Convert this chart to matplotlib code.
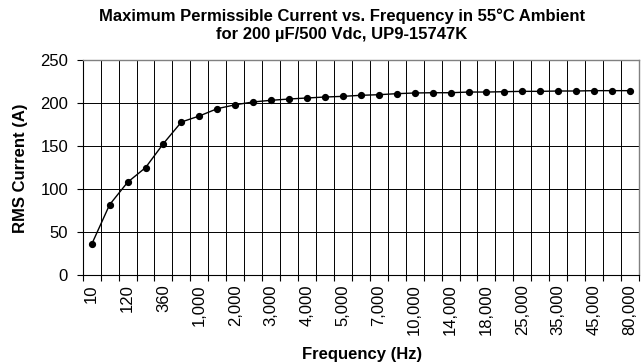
import matplotlib
matplotlib.use("Agg")
import matplotlib.pyplot as plt
import numpy as np

plt.rcParams['font.family'] = ['Liberation Sans', 'DejaVu Sans']

frequencies = [10, 60, 120, 240, 360, 600, 1000, 1500, 2000, 2500, 3000, 3500,
               4000, 4500, 5000, 6000, 7000, 8500, 10000, 12000, 14000, 16000,
               18000, 20000, 25000, 30000, 35000, 40000, 45000, 60000, 80000]
current = [36, 82, 108, 125, 153, 178, 185, 193.5, 198, 201.3, 203.2, 204.7,
           205.9, 207, 207.8, 209, 209.7, 210.9, 211.7, 212, 212, 212.8,
           212.8, 213.2, 213.6, 213.6, 214, 214, 214.4, 214.4, 214.4]
y_ticks = [0, 50, 100, 150, 200, 250]

fig = plt.figure(figsize=(6.43, 3.64), dpi=100)
ax = fig.add_axes([82.7/643, 1-275.3/364, (639-82.7)/643, (275.3-60)/364])

x = np.arange(len(frequencies))
ax.plot(x, current, color='black', lw=1.0, marker='o', markersize=4.2,
        markerfacecolor='black', markeredgecolor='black', zorder=3)

ax.set_xlim(-0.5, len(frequencies) - 0.5)
ax.set_ylim(0, 250)
ax.set_yticks(y_ticks)
ax.set_yticklabels([str(v) for v in y_ticks], fontsize=12)

major = x[::2]
ax.set_xticks(major)
ax.set_xticklabels([f"{frequencies[i]:,}" for i in major], rotation=90, fontsize=12)
ax.set_xticks(np.arange(len(frequencies) + 1) - 0.5, minor=True)
ax.tick_params(axis='x', which='major', length=0, pad=6.5)
ax.tick_params(axis='x', which='minor', length=4, width=0.8, direction='out', color='black')
ax.tick_params(axis='y', which='major', length=4.5, width=0.8, direction='out', pad=6)

ax.grid(True, which='minor', axis='x', color='black', lw=0.7)
ax.grid(True, which='major', axis='y', color='black', lw=0.7)
ax.grid(False, which='major', axis='x')
ax.set_axisbelow(True)

for s in ['top', 'right']:
    ax.spines[s].set_color('#808080')
    ax.spines[s].set_linewidth(1.0)
for s in ['left', 'bottom']:
    ax.spines[s].set_color('black')
    ax.spines[s].set_linewidth(0.8)

fig.text(342/643, 1-16/364, "Maximum Permissible Current vs. Frequency in 55°C Ambient",
         ha='center', va='center', fontsize=12, fontweight='bold')
fig.text(342/643, 1-34.5/364, "for 200 µF/500 Vdc, UP9-15747K",
         ha='center', va='center', fontsize=12, fontweight='bold')
fig.text(362/643, 1-354/364, "Frequency (Hz)", ha='center', va='center',
         fontsize=12, fontweight='bold')
fig.text(21/643, 1-168/364, "RMS Current (A)", ha='center', va='center',
         rotation=90, fontsize=12, fontweight='bold')

fig.savefig("out.png", dpi=100)
